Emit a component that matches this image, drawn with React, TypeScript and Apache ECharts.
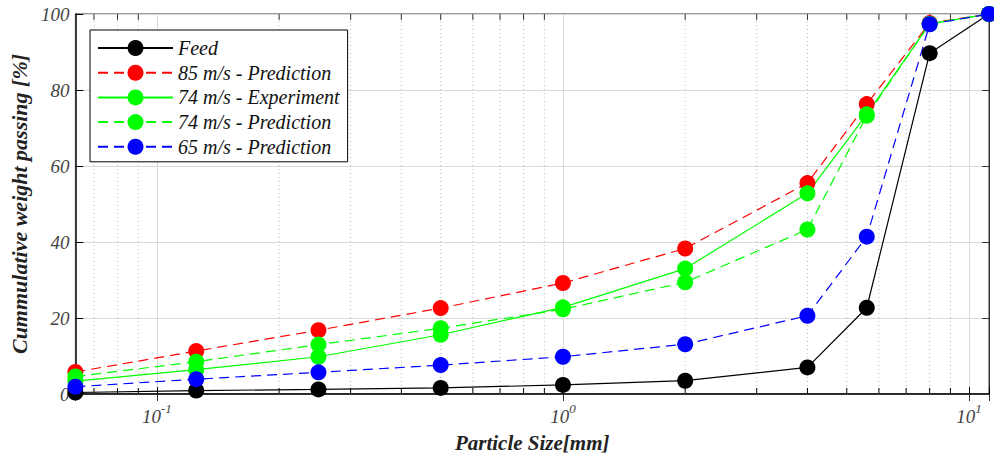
import React, { useEffect, useRef } from 'react';
import * as echarts from 'echarts';

const sizes = [0.063, 0.125, 0.25, 0.5, 1, 2, 4, 5.6, 8, 11.2];
const feed = [0.4, 0.9, 1.2, 1.6, 2.4, 3.5, 7.0, 22.7, 89.7, 100];
const pred85 = [5.8, 11.3, 16.8, 22.6, 29.2, 38.3, 55.5, 76.3, 97.6, 100];
const exp74 = [3.4, 6.4, 9.8, 15.6, 22.8, 33.0, 52.8, 73.6, 97.4, 100];
const pred74 = [4.6, 8.5, 13.0, 17.3, 22.3, 29.4, 43.3, 73.2, 97.4, 100];
const pred65 = [1.9, 3.9, 5.7, 7.6, 9.8, 13.1, 20.6, 41.4, 97.3, 100];
const minorX = [0.07, 0.08, 0.09, 0.2, 0.3, 0.4, 0.5, 0.6, 0.7, 0.8, 0.9, 2, 3, 4, 5, 6, 7, 8, 9];
const seriesNames = [
  'Feed',
  '85 m/s - Prediction',
  '74 m/s - Experiment',
  '74 m/s - Prediction',
  '65 m/s - Prediction',
];

const FONT = 'Liberation Serif';

export default function App() {
  const ref = useRef<HTMLDivElement>(null);
  useEffect(() => {
    const chart = echarts.init(ref.current as HTMLDivElement, null, { renderer: 'svg' });
    const pair = (arr: number[]) => sizes.map((s, i) => [s, arr[i]]);
    const mk = (name: string, color: string, arr: number[], dashed: boolean) => ({
      type: 'line',
      name,
      data: pair(arr),
      symbol: 'circle',
      symbolSize: 16,
      itemStyle: { color },
      lineStyle: { color, width: 1.2, type: dashed ? [10, 6] : 'solid' },
      clip: false,
      z: 3,
      xAxisIndex: 0,
      yAxisIndex: 0,
    });
    const isPow = (v: number) => {
      const l = Math.log10(v);
      return Math.abs(l - Math.round(l)) < 1e-6;
    };
    const tickLabel = {
      fontFamily: FONT,
      fontStyle: 'italic',
      fontSize: 19,
      color: '#444',
    };
    chart.setOption({
      animation: false,
      textStyle: { fontFamily: FONT },
      grid: {
        left: 69,
        right: 5,
        top: 14,
        bottom: 64,
        show: true,
        borderColor: '#333',
        borderWidth: 1,
        backgroundColor: 'transparent',
      },
      legend: {
        data: seriesNames,
        orient: 'vertical',
        left: 90,
        top: 30,
        itemWidth: 75,
        itemHeight: 20,
        itemGap: 4.7,
        padding: [8, 8, 5, 7],
        borderColor: '#000',
        borderWidth: 1,
        borderRadius: 0,
        backgroundColor: '#fff',
        textStyle: { fontFamily: FONT, fontStyle: 'italic', fontSize: 20, color: '#111' },
      },
      xAxis: [
        {
          type: 'log',
          logBase: 10,
          min: 0.063,
          max: 11.2,
          position: 'bottom',
          axisLine: { lineStyle: { color: '#000', width: 1.5 } },
          axisTick: { inside: true, length: 7, lineStyle: { color: '#000' } },
          axisLabel: {
            margin: 8,
            formatter: (v: number) => {
              if (!isPow(v)) return '';
              const e = Math.round(Math.log10(v));
              return `{b|10}{s|${e}}`;
            },
            rich: {
              b: { ...tickLabel, verticalAlign: 'bottom', lineHeight: 24 },
              s: { ...tickLabel, fontSize: 13, verticalAlign: 'top', lineHeight: 24 },
            },
          },
          splitLine: { show: true, lineStyle: { color: '#d9d9d9', width: 1 } },
          name: 'Particle Size[mm]',
          nameLocation: 'middle',
          nameGap: 38,
          nameTextStyle: {
            fontFamily: FONT,
            fontStyle: 'italic',
            fontWeight: 'bold',
            fontSize: 21,
            color: '#222',
          },
        },
        {
          type: 'log',
          logBase: 10,
          min: 0.063,
          max: 11.2,
          position: 'top',
          axisLine: { show: true, lineStyle: { color: '#333', width: 1 } },
          axisTick: { inside: true, length: 7, lineStyle: { color: '#333' } },
          axisLabel: { show: false },
          splitLine: { show: false },
        },
      ],
      yAxis: [
        {
          type: 'value',
          min: 0,
          max: 100,
          interval: 20,
          position: 'left',
          axisLine: { show: true, lineStyle: { color: '#000', width: 1.5 } },
          axisTick: { show: true, inside: true, length: 8, lineStyle: { color: '#000' } },
          axisLabel: { ...tickLabel, margin: 6 },
          splitLine: { show: true, lineStyle: { color: '#d9d9d9', width: 1 } },
          name: 'Cummulative weight passing [%]',
          nameLocation: 'middle',
          nameGap: 36,
          nameTextStyle: {
            fontFamily: FONT,
            fontStyle: 'italic',
            fontWeight: 'bold',
            fontSize: 22,
            color: '#222',
          },
        },
        {
          type: 'value',
          min: 0,
          max: 100,
          interval: 20,
          position: 'right',
          axisLine: { show: true, lineStyle: { color: '#333', width: 1 } },
          axisTick: { show: true, inside: true, length: 7, lineStyle: { color: '#333' } },
          axisLabel: { show: false },
          splitLine: { show: false },
        },
      ],
      series: [
        {
          type: 'custom',
          name: 'minor',
          silent: true,
          z: 1,
          xAxisIndex: 0,
          yAxisIndex: 0,
          data: minorX.map((v) => [v, 0]),
          encode: { x: 0, y: 1 },
          renderItem: (params: any, api: any) => {
            const x = api.value(0);
            const b = api.coord([x, 0]);
            const t = api.coord([x, 100]);
            return {
              type: 'group',
              children: [
                {
                  type: 'line',
                  shape: { x1: b[0], y1: b[1], x2: t[0], y2: t[1] },
                  style: { stroke: '#bbbbbb', lineWidth: 1, lineDash: [1, 3] },
                },
                {
                  type: 'line',
                  shape: { x1: b[0], y1: b[1], x2: b[0], y2: b[1] - 6 },
                  style: { stroke: '#000', lineWidth: 1 },
                },
                {
                  type: 'line',
                  shape: { x1: t[0], y1: t[1], x2: t[0], y2: t[1] + 6 },
                  style: { stroke: '#333', lineWidth: 1 },
                },
              ],
            };
          },
        },
        mk(seriesNames[0], '#000000', feed, false),
        mk(seriesNames[1], '#ff0000', pred85, true),
        mk(seriesNames[2], '#00ff00', exp74, false),
        mk(seriesNames[3], '#00ff00', pred74, true),
        mk(seriesNames[4], '#0000ff', pred65, true),
      ],
    });
    return () => chart.dispose();
  }, []);
  return <div ref={ref} style={{ width: 994, height: 458, position: 'absolute', left: 0, top: 0 }} />;
}
